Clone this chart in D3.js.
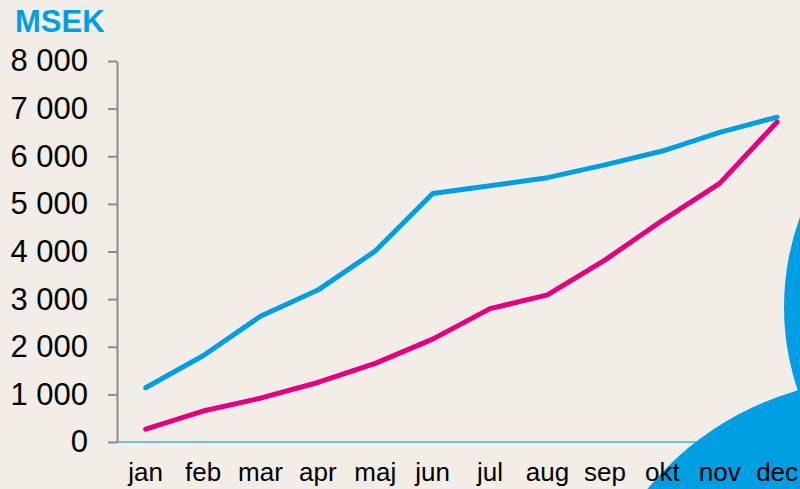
<!DOCTYPE html>
<html>
<head>
<meta charset="utf-8">
<script src="https://cdn.jsdelivr.net/npm/d3@7"></script>
<style>
  html, body { margin: 0; padding: 0; background: #f2eee7; overflow: hidden; }
  svg { display: block; font-family: "Liberation Sans", Arial, sans-serif; }
  .y-axis path, .y-axis line { stroke: #8c8c8c; stroke-width: 2; }
  .y-axis text { font-size: 31px; fill: #000; }
  .month-label { font-size: 26px; fill: #000; }
</style>
</head>
<body>
<div class="chart-container"></div>
<script>
// chart data
var months = ['jan', 'feb', 'mar', 'apr', 'maj', 'jun', 'jul', 'aug', 'sep', 'okt', 'nov', 'dec'];
var blueSeries = [1140, 1810, 2640, 3190, 4010, 5220, 5380, 5550, 5820, 6110, 6500, 6820];
var pinkSeries = [270, 650, 920, 1250, 1650, 2160, 2800, 3090, 3820, 4650, 5430, 6720];
var yTicks = [0, 1000, 2000, 3000, 4000, 5000, 6000, 7000, 8000];
var unitLabel = 'MSEK';

var width = 800;
var height = 489;
var margin = { top: 61, left: 117, bottom: 442 };

var svg = d3.select('.chart-container').append('svg')
  .attr('width', width)
  .attr('height', height);

svg.append('rect')
  .attr('width', width)
  .attr('height', height)
  .attr('fill', '#f2eee7');

// swedish style number format: "8 000"
var locale = d3.formatLocale({ decimal: ',', thousands: '\u00a0', grouping: [3], currency: ['', ' kr'] });
var fmt = locale.format(',');

var x = d3.scalePoint()
  .domain(months)
  .range([margin.left, margin.left + 12 * 57.4])
  .padding(0.5);

var y = d3.scaleLinear()
  .domain([0, 8000])
  .range([margin.bottom, margin.top]);

// light blue baseline
svg.append('line')
  .attr('x1', margin.left)
  .attr('x2', width)
  .attr('y1', y(0))
  .attr('y2', y(0))
  .attr('stroke', '#6cc0ea')
  .attr('stroke-width', 2);

// decorative blue shape in the corner
svg.append('circle')
  .attr('cx', 1047).attr('cy', 307).attr('r', 263)
  .attr('fill', '#009fe3');
svg.append('circle')
  .attr('cx', 880).attr('cy', 680).attr('r', 301)
  .attr('fill', '#009fe3');

// y axis
svg.append('g')
  .attr('class', 'y-axis')
  .attr('transform', 'translate(' + margin.left + ',0)')
  .call(d3.axisLeft(y)
    .tickValues(yTicks)
    .tickFormat(fmt)
    .tickSize(9)
    .tickSizeOuter(0)
    .tickPadding(20));

svg.select('.y-axis').attr('font-family', null).attr('font-size', null);

// month labels
svg.selectAll('.month-label')
  .data(months)
  .enter()
  .append('text')
    .attr('class', 'month-label')
    .attr('text-anchor', 'middle')
    .attr('x', function (d) { return x(d); })
    .attr('y', 481)
    .text(function (d) { return d; });

// unit title
svg.append('text')
  .attr('x', 15)
  .attr('y', 32)
  .attr('font-size', 31)
  .attr('font-weight', 'bold')
  .attr('fill', '#009fe3')
  .text(unitLabel);

var line = d3.line()
  .x(function (d, i) { return x(months[i]); })
  .y(function (d) { return y(d); });

svg.append('path')
  .datum(pinkSeries)
  .attr('class', 'trendline')
  .attr('fill', 'none')
  .attr('stroke', '#e6007e')
  .attr('stroke-width', 5)
  .attr('stroke-linecap', 'round')
  .attr('stroke-linejoin', 'round')
  .attr('d', line);

svg.append('path')
  .datum(blueSeries)
  .attr('class', 'trendline')
  .attr('fill', 'none')
  .attr('stroke', '#009fe3')
  .attr('stroke-width', 5)
  .attr('stroke-linecap', 'round')
  .attr('stroke-linejoin', 'round')
  .attr('d', line);
</script>
</body>
</html>
